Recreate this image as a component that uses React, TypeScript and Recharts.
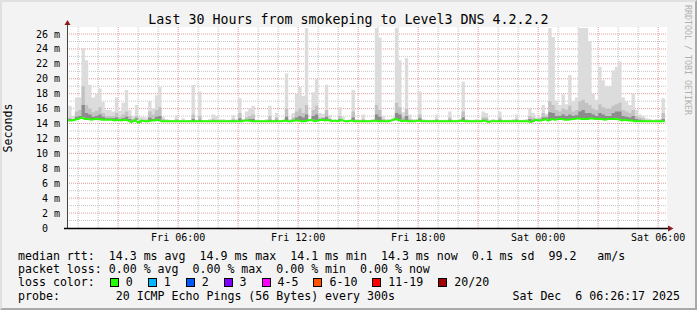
import { ComposedChart, Area, Line, XAxis, YAxis, CartesianGrid } from 'recharts';

const FONT = '"DejaVu Sans Mono", monospace';

// 10 minute slots, first one starts Fri 00:30 (hours counted from Fri 00:00)
const START_HOUR = 0.5;
const STEP_HOURS = 1 / 6;

// median rtt (ms), one row per hour
const median = [
  14.4, 14.4, 14.5, 14.6, 14.8, 14.6,
  14.6, 14.5, 14.6, 14.6, 14.5, 14.5,
  14.5, 14.5, 14.4, 14.5, 14.4, 14.5,
  14.4, 14.2, 14.5, 14.1, 14.4, 14.3,
  14.3, 14.4, 14.4, 14.5, 14.3, 14.3,
  14.3, 14.3, 14.3, 14.3, 14.3, 14.3,
  14.3, 14.3, 14.3, 14.3, 14.3, 14.3,
  14.3, 14.3, 14.3, 14.3, 14.3, 14.3,
  14.3, 14.3, 14.3, 14.3, 14.3, 14.4,
  14.4, 14.3, 14.3, 14.3, 14.3, 14.3,
  14.3, 14.3, 14.3, 14.3, 14.3, 14.4,
  14.3, 14.3, 14.4, 14.4, 14.3, 14.3,
  14.4, 14.5, 14.3, 14.4, 14.5, 14.4,
  14.5, 14.3, 14.4, 14.3, 14.5, 14.3,
  14.3, 14.4, 14.3, 14.3, 14.3, 14.3,
  14.3, 14.3, 14.4, 14.3, 14.3, 14.3,
  14.3, 14.4, 14.6, 14.5, 14.3, 14.4,
  14.3, 14.3, 14.3, 14.4, 14.3, 14.3,
  14.3, 14.3, 14.3, 14.3, 14.3, 14.3,
  14.3, 14.3, 14.3, 14.3, 14.4, 14.3,
  14.3, 14.3, 14.3, 14.3, 14.3, 14.4,
  14.2, 14.3, 14.3, 14.3, 14.3, 14.3,
  14.3, 14.3, 14.3, 14.3, 14.3, 14.3,
  14.3, 14.2, 14.5, 14.4, 14.4, 14.6,
  14.4, 14.6, 14.5, 14.6, 14.6, 14.5,
  14.5, 14.6, 14.6, 14.7, 14.6, 14.6,
  14.6, 14.7, 14.6, 14.6, 14.6, 14.5,
  14.6, 14.6, 14.6, 14.6, 14.4, 14.5,
  14.4, 14.4, 14.3, 14.3, 14.3, 14.3,
  14.3, 14.3, 14.3, 14.3, 14.3, 14.3,
];

// darkest smoke, top edge
const dark = [
  14.6, 14.5, 14.9, 15.0, 16.5, 15.4,
  15.2, 14.9, 15.0, 15.2, 14.9, 14.7,
  14.7, 14.7, 14.8, 14.6, 14.7, 14.9,
  14.6, 14.4, 14.7, 14.3, 14.4, 14.3,
  14.8, 14.6, 14.9, 15.0, 14.3, 14.3,
  14.3, 14.3, 14.3, 14.3, 14.3, 14.3,
  14.3, 14.6, 14.3, 14.5, 14.3, 14.3,
  14.3, 14.3, 14.3, 14.3, 14.3, 14.3,
  14.3, 14.4, 14.3, 14.7, 14.3, 14.5,
  14.6, 14.6, 14.3, 14.3, 14.3, 14.3,
  14.5, 14.3, 14.5, 14.3, 14.3, 14.9,
  14.3, 14.5, 14.8, 15.0, 14.8, 15.2,
  14.4, 15.0, 15.2, 14.6, 14.7, 14.9,
  14.6, 14.3, 14.4, 14.6, 14.5, 14.3,
  14.3, 14.8, 14.3, 14.3, 14.4, 14.3,
  14.3, 14.3, 15.2, 14.9, 14.4, 14.3,
  14.3, 14.5, 15.4, 15.2, 14.5, 15.0,
  14.4, 14.3, 14.3, 14.7, 14.3, 14.3,
  14.3, 14.3, 14.4, 14.3, 14.3, 14.3,
  14.5, 14.3, 14.3, 14.3, 14.8, 14.3,
  14.3, 14.3, 14.3, 14.3, 14.5, 14.5,
  14.2, 14.3, 14.3, 14.5, 14.3, 14.3,
  14.3, 14.3, 14.4, 14.3, 14.3, 14.3,
  14.6, 14.4, 14.6, 14.5, 14.8, 14.8,
  15.5, 15.4, 15.0, 15.0, 15.2, 15.0,
  15.2, 15.0, 15.1, 15.6, 15.8, 15.4,
  15.4, 15.2, 15.0, 15.4, 15.2, 15.0,
  15.0, 15.4, 15.6, 15.6, 15.0, 14.9,
  14.8, 15.0, 14.6, 14.5, 14.4, 14.3,
  14.3, 14.3, 14.3, 14.3, 14.6, 14.4,
];

// mid grey smoke, top edge
const upper = [
  14.8, 14.6, 15.6, 15.8, 19.0, 16.5,
  16.0, 15.5, 15.7, 16.2, 15.4, 15.0,
  15.0, 15.0, 15.4, 14.9, 15.2, 15.6,
  15.0, 14.6, 15.0, 14.5, 14.5, 14.5,
  15.6, 15.2, 15.8, 16.2, 14.6, 14.4,
  14.4, 14.4, 14.6, 14.4, 14.4, 14.4,
  14.4, 15.2, 14.4, 15.0, 14.4, 14.4,
  14.4, 14.6, 14.5, 14.4, 14.4, 14.4,
  14.4, 14.6, 14.4, 15.4, 14.4, 14.8,
  15.0, 15.2, 14.4, 14.4, 14.4, 14.4,
  15.0, 14.4, 14.8, 14.4, 14.4, 16.0,
  14.4, 14.8, 15.6, 16.0, 15.4, 16.5,
  14.4, 15.8, 16.4, 14.8, 14.8, 15.8,
  14.6, 14.4, 14.4, 15.0, 14.5, 14.4,
  14.4, 15.6, 14.4, 14.4, 14.6, 14.4,
  14.4, 14.4, 16.5, 15.8, 14.6, 14.4,
  14.4, 14.5, 16.8, 16.2, 14.9, 16.0,
  14.6, 14.4, 14.4, 15.2, 14.4, 14.4,
  14.4, 14.4, 14.6, 14.4, 14.4, 14.4,
  14.8, 14.4, 14.4, 14.4, 15.6, 14.4,
  14.4, 14.4, 14.4, 14.4, 14.8, 14.8,
  14.4, 14.4, 14.4, 14.8, 14.4, 14.4,
  14.4, 14.4, 14.6, 14.4, 14.4, 14.4,
  15.0, 14.8, 14.6, 14.7, 15.4, 15.0,
  17.0, 16.5, 15.8, 15.6, 16.0, 15.8,
  16.4, 15.6, 15.8, 17.0, 17.2, 16.8,
  16.5, 16.0, 15.8, 16.6, 16.2, 16.0,
  16.0, 16.4, 16.6, 16.8, 15.8, 15.6,
  15.4, 15.8, 15.0, 14.8, 14.7, 14.5,
  14.5, 14.4, 14.5, 14.5, 15.4, 14.8,
];

// slowest ping of the 20 (light grey)
const max = [
  16.4, 15.0, 17.5, 17.5, 24.1, 22.5,
  19.2, 17.5, 18.0, 18.7, 16.9, 15.8,
  15.8, 15.6, 17.5, 15.7, 16.8, 18.5,
  15.8, 15.0, 16.5, 14.9, 14.9, 14.8,
  17.0, 16.0, 17.8, 18.9, 14.9, 14.6,
  14.5, 14.4, 15.1, 14.4, 14.7, 14.4,
  14.4, 19.2, 14.5, 18.3, 14.4, 14.4,
  14.6, 15.2, 15.0, 14.6, 14.6, 14.5,
  14.5, 15.1, 14.6, 17.4, 14.6, 15.6,
  16.0, 16.4, 14.5, 14.4, 14.4, 14.6,
  16.4, 14.5, 15.4, 14.4, 14.5, 20.7,
  14.6, 15.4, 18.0, 18.9, 17.7, 26.8,
  14.6, 18.2, 20.0, 15.4, 15.3, 19.2,
  15.1, 14.5, 14.5, 16.2, 14.9, 14.5,
  14.5, 18.5, 14.6, 14.5, 15.2, 14.5,
  14.5, 14.6, 26.8, 25.5, 15.0, 14.6,
  14.6, 14.8, 26.8, 22.5, 15.5, 22.8,
  15.2, 14.6, 14.6, 18.3, 14.6, 14.5,
  14.5, 14.5, 15.2, 14.5, 14.5, 14.5,
  15.6, 14.5, 14.5, 14.6, 19.6, 14.6,
  14.5, 14.5, 14.6, 14.5, 15.6, 15.4,
  14.5, 14.6, 14.5, 15.6, 14.5, 14.5,
  14.5, 14.6, 15.2, 14.5, 14.5, 14.6,
  16.1, 15.4, 14.8, 14.9, 16.5, 15.3,
  26.8, 25.6, 17.1, 16.5, 17.9, 16.6,
  20.5, 17.0, 17.5, 26.8, 26.8, 26.8,
  25.0, 18.0, 17.2, 21.6, 19.8, 19.0,
  19.0, 21.1, 21.6, 22.3, 17.5, 17.0,
  16.5, 18.0, 15.8, 15.2, 15.0, 14.7,
  14.6, 14.5, 14.6, 14.6, 17.4, 15.5,
];

const xTicks = [6, 12, 18, 24, 30];
const xTickLabels = ['Fri 06:00', 'Fri 12:00', 'Fri 18:00', 'Sat 00:00', 'Sat 06:00'];
const yTicks = [0, 2, 4, 6, 8, 10, 12, 14, 16, 18, 20, 22, 24, 26];
const yMinor = [1, 3, 5, 7, 9, 11, 13, 15, 17, 19, 21, 23, 25];
const xMajor = [3, 6, 9, 12, 15, 18, 21, 24, 27, 30];
const xMinor = [1, 2, 4, 5, 7, 8, 10, 11, 13, 14, 16, 17, 19, 20, 22, 23, 25, 26, 28, 29];

const legendRows = [
  'median rtt:  14.3 ms avg  14.9 ms max  14.1 ms min  14.3 ms now  0.1 ms sd  99.2   am/s',
  'packet loss: 0.00 % avg  0.00 % max  0.00 % min  0.00 % now',
];
const lossLabels = ['0', '1', '2', '3', '4-5', '6-10', '11-19', '20/20'];
const lossColors = ['#26ff00', '#00b8ff', '#0059ff', '#7e00ff', '#ff00ff', '#ff5500', '#ff0000', '#a10000'];

const rows = median.map((m, i) => ({
  t: START_HOUR + i * STEP_HOURS,
  light: [m, max[i]],
  mid: [m, upper[i]],
  dark: [m, dark[i]],
  median: m,
}));

const YTick = ({ x, y, payload }: any) => (
  <g>
    <text x={x - 12} y={y} dy={3.5} textAnchor="end" fontFamily={FONT} fontSize={10} fill="#000">
      {payload.value}
    </text>
    {payload.value !== 0 && (
      <text x={x} y={y} dy={3.5} textAnchor="end" fontFamily={FONT} fontSize={10} fill="#000">
        m
      </text>
    )}
  </g>
);

const XTick = ({ x, y, payload }: any) => (
  <text x={x} y={y + 13} textAnchor="middle" fontFamily={FONT} fontSize={10} fill="#000">
    {xTickLabels[xTicks.indexOf(payload.value)]}
  </text>
);

const textLine = (top: number): React.CSSProperties => ({
  position: 'absolute',
  left: 16,
  top,
  fontFamily: FONT,
  fontSize: 11.6,
  lineHeight: '14px',
  whiteSpace: 'pre',
  color: '#000',
});

export default function App() {
  return (
    <div
      style={{
        position: 'absolute',
        left: 0,
        top: 0,
        width: 697,
        height: 310,
        background: '#f3f3f3',
        boxSizing: 'border-box',
        borderTop: '2px solid #e0e0e0',
        borderLeft: '2px solid #e0e0e0',
        borderRight: '2px solid #a9a9a9',
        borderBottom: '2px solid #a9a9a9',
        overflow: 'hidden',
      }}
    >
      <div style={{ position: 'absolute', left: -2, top: -2 }}>
        <ComposedChart width={697} height={310} data={rows} margin={{ top: 27, right: 30, bottom: 62, left: 7 }}>
          <CartesianGrid
            fill="#ffffff"
            stroke="#c4c4c4"
            strokeDasharray="1 1"
            horizontalValues={yMinor}
            verticalValues={xMinor}
          />
          <CartesianGrid
            stroke="#e49a9a"
            strokeDasharray="1 1"
            horizontalValues={yTicks.filter((v) => v > 0)}
            verticalValues={xMajor}
          />
          <XAxis
            dataKey="t"
            type="number"
            domain={[0.44, 30.44]}
            allowDataOverflow
            ticks={xTicks}
            interval={0}
            tick={<XTick />}
            tickLine={false}
            axisLine={false}
            tickSize={0}
            tickMargin={0}
            height={20}
          />
          <YAxis
            type="number"
            domain={[0, 26.94]}
            allowDataOverflow
            ticks={yTicks}
            interval={0}
            tick={<YTick />}
            tickLine={false}
            axisLine={false}
            tickSize={0}
            tickMargin={7}
            width={60}
          />
          <Area dataKey="light" type="stepAfter" stroke="none" fill="#dcdcdc" fillOpacity={1} isAnimationActive={false} />
          <Area dataKey="mid" type="stepAfter" stroke="none" fill="#c2c2c2" fillOpacity={1} isAnimationActive={false} />
          <Area dataKey="dark" type="stepAfter" stroke="none" fill="#8c8c8c" fillOpacity={1} isAnimationActive={false} />
          <Line dataKey="median" type="linear" stroke="#26ff00" strokeWidth={2} dot={false} isAnimationActive={false} />
        </ComposedChart>
      </div>

      {/* axis lines with arrows, rrdtool style */}
      <svg width={697} height={310} style={{ position: 'absolute', left: -2, top: -2, pointerEvents: 'none' }}>
        <line x1={67.5} y1={24} x2={67.5} y2={229} stroke="#444" strokeWidth={1} />
        <polygon points="64.5,25 70.5,25 67.5,20" fill="#8b1a1a" />
        <line x1={64} y1={228.5} x2={668} y2={228.5} stroke="#000" strokeWidth={1.6} />
        <polygon points="668,225.5 668,231.5 673.5,228.5" fill="#8b1a1a" />
      </svg>

      <div
        style={{
          position: 'absolute',
          left: -2,
          top: 10,
          width: 697,
          textAlign: 'center',
          fontFamily: FONT,
          fontSize: 13.3,
          lineHeight: '16px',
          color: '#000',
        }}
      >
        Last 30 Hours from smokeping to Level3 DNS 4.2.2.2
      </div>

      <div
        style={{
          position: 'absolute',
          left: 8 - 2 - 40,
          top: 128 - 2 - 7,
          width: 80,
          textAlign: 'center',
          transform: 'rotate(-90deg)',
          fontFamily: FONT,
          fontSize: 11.6,
          lineHeight: '14px',
          color: '#000',
        }}
      >
        Seconds
      </div>

      <div
        style={{
          position: 'absolute',
          left: 688 - 2 - 60,
          top: 60 - 2 - 5,
          width: 120,
          textAlign: 'center',
          transform: 'rotate(90deg)',
          fontFamily: FONT,
          fontSize: 8.3,
          lineHeight: '10px',
          color: '#b0b0b0',
        }}
      >
        RRDTOOL / TOBI OETIKER
      </div>

      <div style={textLine(249 - 2)}>{legendRows[0]}</div>
      <div style={textLine(262 - 2)}>{legendRows[1]}</div>
      <div style={textLine(275 - 2)}>
        {'loss color:  '}
        {lossLabels.map((label, i) => (
          <span key={label}>
            <span
              style={{
                display: 'inline-block',
                width: 9,
                height: 9,
                boxSizing: 'border-box',
                border: '1px solid #000',
                background: lossColors[i],
                marginLeft: 1,
                marginRight: 7,
                verticalAlign: '-1px',
              }}
            />
            {label + '  '}
          </span>
        ))}
      </div>
      <div style={textLine(289 - 2)}>{'probe:        20 ICMP Echo Pings (56 Bytes) every 300s'}</div>
      <div style={{ ...textLine(289 - 2), left: 'auto', right: 15 }}>Sat Dec  6 06:26:17 2025</div>
    </div>
  );
}
